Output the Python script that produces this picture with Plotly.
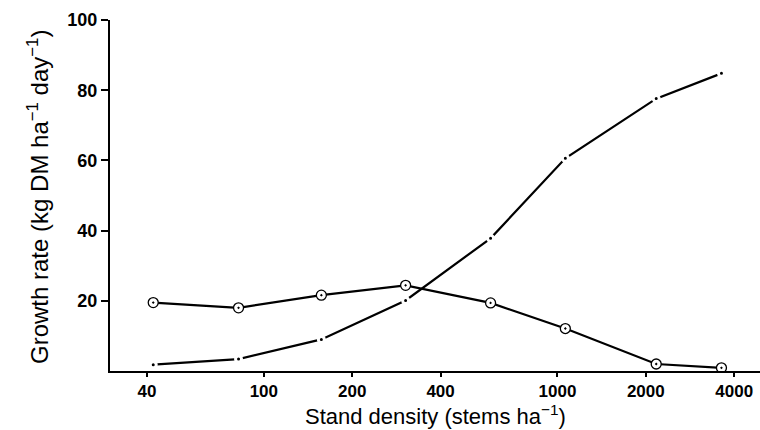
import plotly.graph_objects as go

# Stand density (stems/ha)
density = [42, 82, 157, 304, 592, 1064, 2170, 3620]
# Growth rate series (kg DM /ha /day)
growth_circles = [19.5, 18.0, 21.6, 24.4, 19.4, 12.1, 2.0, 0.9]
growth_dots = [1.8, 3.4, 9.0, 20.1, 37.8, 60.6, 77.6, 84.8]

x_tickvals = [40, 100, 200, 400, 1000, 2000, 4000]
x_ticktext = ["40", "100", "200", "400", "1000", "2000", "4000"]
y_tickvals = [20, 40, 60, 80, 100]
y_ticktext = ["20", "40", "60", "80", "100"]

x_title = "Stand density (stems ha<sup>−1</sup>)"
y_title = "Growth rate (kg DM ha<sup>−1</sup> day<sup>−1</sup>)"

FONT = "Liberation Sans, Arial, Helvetica, sans-serif"

PLOT_L, PLOT_T, PLOT_B = 110, 20, 59
PLOT_W = 760 - PLOT_L
PLOT_H = 430 - PLOT_T - PLOT_B

fig = go.Figure()

# dash-dot style curve: solid segments broken at each point with a small dot
fig.add_trace(go.Scatter(
    x=density, y=growth_dots, mode="lines",
    line=dict(color="black", width=2.2),
    showlegend=False, hoverinfo="skip"))
fig.add_trace(go.Scatter(
    x=density, y=growth_dots, mode="markers",
    marker=dict(symbol="circle", size=6, color="black",
                line=dict(color="white", width=3)),
    showlegend=False))

# open-circle curve
fig.add_trace(go.Scatter(
    x=density, y=growth_circles, mode="lines+markers",
    line=dict(color="black", width=2.2),
    marker=dict(symbol="circle-dot", size=10, color="white",
                line=dict(color="black", width=1.3)),
    showlegend=False))

fig.update_layout(
    width=760, height=430,
    margin=dict(l=PLOT_L, r=0, t=PLOT_T, b=PLOT_B),
    paper_bgcolor="white", plot_bgcolor="white",
    font=dict(family=FONT, color="black"),
)

fig.update_xaxes(
    type="log", range=[1.476, 3.69],
    tickmode="array", tickvals=x_tickvals,
    ticktext=["<b>%s</b>" % t for t in x_ticktext],
    ticks="outside", ticklen=4, tickwidth=1.5, tickcolor="black",
    tickfont=dict(size=17, family=FONT, color="black"),
    showline=True, linewidth=2, linecolor="black",
    showgrid=False, zeroline=False,
)
fig.update_yaxes(
    range=[0, 100],
    tickmode="array", tickvals=y_tickvals,
    ticktext=["<b>%s</b>" % t for t in y_ticktext],
    ticks="outside", ticklen=7, tickwidth=1.5, tickcolor="black",
    tickfont=dict(size=18, family=FONT, color="black"),
    showline=True, linewidth=2, linecolor="black",
    showgrid=False, zeroline=False,
)

# axis titles placed as annotations for exact positioning
fig.add_annotation(
    text=x_title, xref="paper", yref="paper",
    x=(436 - PLOT_L) / PLOT_W, y=-(430 - (430 - PLOT_B)) / PLOT_H,
    xanchor="center", yanchor="bottom", showarrow=False, borderpad=0,
    font=dict(size=22, family=FONT, color="black"))
fig.add_annotation(
    text=y_title, xref="paper", yref="paper",
    x=-(PLOT_L - 22) / PLOT_W, y=((430 - PLOT_B) - 197) / PLOT_H,
    xanchor="left", yanchor="middle", textangle=-90, showarrow=False,
    borderpad=0,
    font=dict(size=24, family=FONT, color="black"))

fig.write_html("out.html")
